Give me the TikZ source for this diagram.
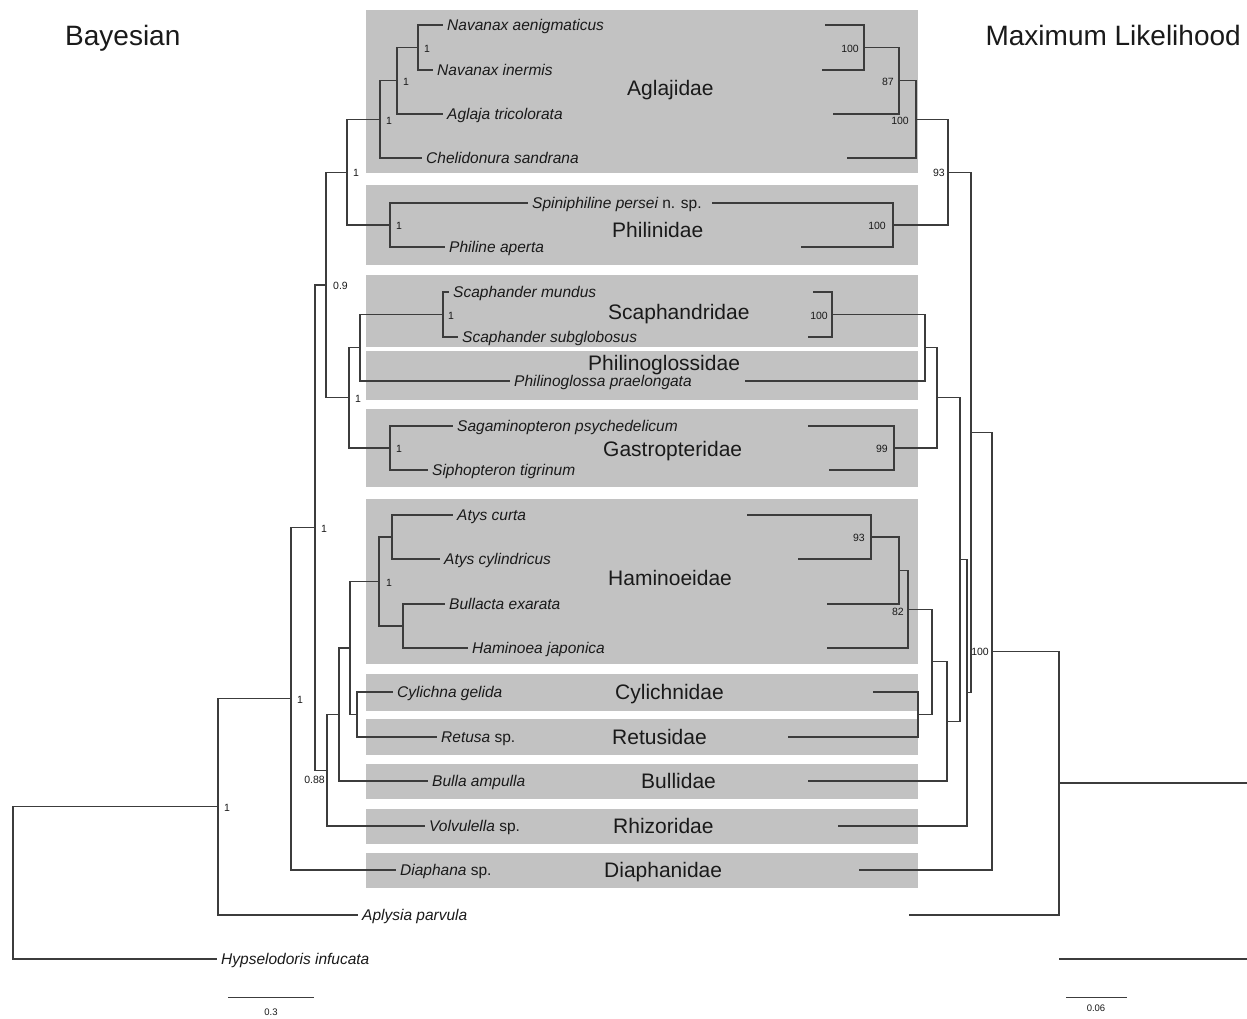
\documentclass[tikz,border=0pt]{standalone}
\usepackage{fontspec}
\setmainfont{Liberation Sans}
\definecolor{linec}{HTML}{3C3C3C}
\definecolor{txt}{HTML}{1A1A1A}
\definecolor{boxc}{HTML}{C2C2C2}
\begin{document}
\begin{tikzpicture}[x=1pt,y=-1pt,
  br/.style={draw=linec, line width=1.1pt},
  sp/.style={font=\fontsize{15.5}{18}\selectfont\itshape, text=txt, anchor=west, inner xsep=4pt, inner ysep=0pt, text height=11.1pt, text depth=0pt},
  fam/.style={font=\fontsize{21}{24}\selectfont, text=txt, anchor=west, inner sep=0pt, text height=15pt, text depth=0pt},
  ttl/.style={font=\fontsize{28}{32}\selectfont, text=txt, inner sep=0pt, text height=20pt, text depth=0pt},
  sup/.style={font=\fontsize{10.5}{12}\selectfont, text=txt, inner sep=0pt, text height=7.5pt, text depth=0pt},
  scl/.style={font=\fontsize{9.5}{11}\selectfont, text=txt, inner sep=0pt, text height=6.8pt, text depth=0pt},
  fbox/.style={fill=boxc, draw=none}]
\useasboundingbox (0,0) rectangle (1247,1018);
\fill[white] (0,0) rectangle (1247,1018);
% family boxes
\fill[fbox] (366,10) rectangle (918,173);
\fill[fbox] (366,185) rectangle (918,265);
\fill[fbox] (366,275) rectangle (918,347);
\fill[fbox] (366,351) rectangle (918,400);
\fill[fbox] (366,409) rectangle (918,487);
\fill[fbox] (366,499) rectangle (918,664);
\fill[fbox] (366,674) rectangle (918,711);
\fill[fbox] (366,719) rectangle (918,755);
\fill[fbox] (366,764) rectangle (918,799);
\fill[fbox] (366,809) rectangle (918,844);
\fill[fbox] (366,853) rectangle (918,888);
% titles
\node[ttl, anchor=west] (tB) at (65,35) {Bayesian};
\node[ttl, anchor=east] (tM) at (1241,35) {Maximum Likelihood};
% family labels
\node[fam] (fA) at (627,88) {Aglajidae};
\node[fam] (fP) at (612,230) {Philinidae};
\node[fam] (fS) at (608,312) {Scaphandridae};
\node[fam] (fPg) at (588,363) {Philinoglossidae};
\node[fam] (fG) at (603,449) {Gastropteridae};
\node[fam] (fH) at (608,578) {Haminoeidae};
\node[fam] (fC) at (615,692) {Cylichnidae};
\node[fam] (fR) at (612,737) {Retusidae};
\node[fam] (fB) at (641,781) {Bullidae};
\node[fam] (fRz) at (613,826) {Rhizoridae};
\node[fam] (fD) at (604,870) {Diaphanidae};
% species (Bayesian tips)
\node[sp] (L1) at (443,25) {Navanax aenigmaticus};
\node[sp] (L2) at (433,70) {Navanax inermis};
\node[sp] (L3) at (443,114) {Aglaja tricolorata};
\node[sp] (L4) at (422,158) {Chelidonura sandrana};
\node[sp] (L5) at (528,203) {Spiniphiline persei\upshape{} n. sp.};
\node[sp] (L6) at (445,247) {Philine aperta};
\node[sp] (L7) at (449,292) {Scaphander mundus};
\node[sp] (L8) at (458,337) {Scaphander subglobosus};
\node[sp] (L9) at (510,381) {Philinoglossa praelongata};
\node[sp] (L10) at (453,426) {Sagaminopteron psychedelicum};
\node[sp] (L11) at (428,470) {Siphopteron tigrinum};
\node[sp] (L12) at (453,515) {Atys curta};
\node[sp] (L13) at (440,559) {Atys cylindricus};
\node[sp] (L14) at (445,604) {Bullacta exarata};
\node[sp] (L15) at (468,648) {Haminoea japonica};
\node[sp] (L16) at (393,692) {Cylichna gelida};
\node[sp] (L17) at (437,737) {Retusa\upshape{} sp.};
\node[sp] (L18) at (428,781) {Bulla ampulla};
\node[sp] (L19) at (425,826) {Volvulella\upshape{} sp.};
\node[sp] (L20) at (396,870) {Diaphana\upshape{} sp.};
\node[sp] (L21) at (358,915) {Aplysia parvula};
\node[sp] (L22) at (217,959) {Hypselodoris infucata};
% Bayesian internal nodes
\coordinate (bNav) at (418,47.5);
\coordinate (bN2) at (397,80.75);
\coordinate (bN3) at (380,119.4);
\coordinate (bPhi) at (390,225);
\coordinate (bA) at (347,172.2);
\coordinate (bSca) at (443,314.5);
\coordinate (bC) at (360,347.75);
\coordinate (bGas) at (390,448);
\coordinate (bD) at (349,397.9);
\coordinate (bE) at (326,285);
\coordinate (bAty) at (392,537);
\coordinate (bBul) at (403,626);
\coordinate (bM) at (379,581.5);
\coordinate (bL) at (357,714.5);
\coordinate (bK) at (350,648);
\coordinate (bJ) at (339,714.5);
\coordinate (bH) at (327,770.25);
\coordinate (bF) at (315,527.6);
\coordinate (bG) at (291,698.8);
\coordinate (bI) at (218,806.9);
\coordinate (bRoot) at (13,883);
\draw[br] (bNav) |- (L1.west) (bNav) |- (L2.west);
\draw[br] (bN2) |- (bNav) (bN2) |- (L3.west);
\draw[br] (bN3) |- (bN2) (bN3) |- (L4.west);
\draw[br] (bPhi) |- (L5.west) (bPhi) |- (L6.west);
\draw[br] (bA) |- (bN3) (bA) |- (bPhi);
\draw[br] (bSca) |- (L7.west) (bSca) |- (L8.west);
\draw[br] (bC) |- (bSca) (bC) |- (L9.west);
\draw[br] (bGas) |- (L10.west) (bGas) |- (L11.west);
\draw[br] (bD) |- (bC) (bD) |- (bGas);
\draw[br] (bE) |- (bA) (bE) |- (bD);
\draw[br] (bAty) |- (L12.west) (bAty) |- (L13.west);
\draw[br] (bBul) |- (L14.west) (bBul) |- (L15.west);
\draw[br] (bM) |- (bAty) (bM) |- (bBul);
\draw[br] (bL) |- (L16.west) (bL) |- (L17.west);
\draw[br] (bK) |- (bM) (bK) |- (bL);
\draw[br] (bJ) |- (bK) (bJ) |- (L18.west);
\draw[br] (bH) |- (bJ) (bH) |- (L19.west);
\draw[br] (bF) |- (bE) (bF) |- (bH);
\draw[br] (bG) |- (bF) (bG) |- (L20.west);
\draw[br] (bI) |- (bG) (bI) |- (L21.west);
\draw[br] (bRoot) |- (bI) (bRoot) |- (L22.west);
% Bayesian supports
\node[sup, anchor=west] (s1) at ([xshift=6pt,yshift=-1pt]bNav) {1};
\node[sup, anchor=west] (s2) at ([xshift=6pt,yshift=-1pt]bN2) {1};
\node[sup, anchor=west] (s3) at ([xshift=6pt,yshift=-1pt]bN3) {1};
\node[sup, anchor=west] (s4) at ([xshift=6pt,yshift=-1pt]bPhi) {1};
\node[sup, anchor=west] (s5) at ([xshift=6pt,yshift=-1pt]bA) {1};
\node[sup, anchor=west] (s6) at ([xshift=5pt,yshift=-1pt]bSca) {1};
\node[sup, anchor=west] (s7) at ([xshift=6pt,yshift=-1pt]bGas) {1};
\node[sup, anchor=west] (s8) at ([xshift=6pt,yshift=-1pt]bD) {1};
\node[sup, anchor=west] (s9) at ([xshift=7pt,yshift=-1pt]bE) {0.9};
\node[sup, anchor=west] (s10) at ([xshift=6pt,yshift=-1pt]bF) {1};
\node[sup, anchor=west] (s11) at ([xshift=6pt,yshift=-1pt]bG) {1};
\node[sup, anchor=west] (s12) at ([xshift=7pt,yshift=-1.5pt]bM) {1};
\node[sup, anchor=west] (s13) at ([xshift=6pt,yshift=-1pt]bI) {1};
\node[sup, anchor=east] (s14) at ([xshift=-2pt,yshift=-9pt]bH) {0.88};
% ML tips
\coordinate (mL1) at (825,25);
\coordinate (mL2) at (822,70);
\coordinate (mL3) at (833,114);
\coordinate (mL4) at (847,158);
\coordinate (mL5) at (712,203);
\coordinate (mL6) at (801,247);
\coordinate (mL7) at (813,292);
\coordinate (mL8) at (808,337);
\coordinate (mL9) at (745,381);
\coordinate (mL10) at (808,426);
\coordinate (mL11) at (829,470);
\coordinate (mL12) at (747,515);
\coordinate (mL13) at (798,559);
\coordinate (mL14) at (827,604);
\coordinate (mL15) at (827,648);
\coordinate (mL16) at (873,692);
\coordinate (mL17) at (788,737);
\coordinate (mL18) at (808,781);
\coordinate (mL19) at (838,826);
\coordinate (mL20) at (859,870);
\coordinate (mL21) at (909,915);
\coordinate (mL22) at (1059,959);
\coordinate (mE1) at (1247,783);
\coordinate (mE2) at (1247,959);
% ML internal nodes
\coordinate (m1) at (864,47.5);
\coordinate (m2) at (899,80.75);
\coordinate (m3) at (916,119.4);
\coordinate (m4) at (893,225);
\coordinate (m5) at (948,172.2);
\coordinate (mS) at (832,314.5);
\coordinate (mC) at (925,347.75);
\coordinate (mG) at (894,448);
\coordinate (mD) at (937,397.9);
\coordinate (mA) at (871,537);
\coordinate (mB) at (899,570.5);
\coordinate (mH) at (908,609.25);
\coordinate (mL) at (918,714.5);
\coordinate (mK) at (932,661.9);
\coordinate (mJ) at (947,721.4);
\coordinate (mX) at (960,559.6);
\coordinate (mY) at (967,692.8);
\coordinate (mZ) at (971,432.5);
\coordinate (mW) at (992,651.2);
\coordinate (mV) at (1059,783);
\draw[br] (m1) |- (mL1) (m1) |- (mL2);
\draw[br] (m2) |- (m1) (m2) |- (mL3);
\draw[br] (m3) |- (m2) (m3) |- (mL4);
\draw[br] (m4) |- (mL5) (m4) |- (mL6);
\draw[br] (m5) |- (m3) (m5) |- (m4);
\draw[br] (mS) |- (mL7) (mS) |- (mL8);
\draw[br] (mC) |- (mS) (mC) |- (mL9);
\draw[br] (mG) |- (mL10) (mG) |- (mL11);
\draw[br] (mD) |- (mC) (mD) |- (mG);
\draw[br] (mA) |- (mL12) (mA) |- (mL13);
\draw[br] (mB) |- (mA) (mB) |- (mL14);
\draw[br] (mH) |- (mB) (mH) |- (mL15);
\draw[br] (mL) |- (mL16) (mL) |- (mL17);
\draw[br] (mK) |- (mH) (mK) |- (mL);
\draw[br] (mJ) |- (mK) (mJ) |- (mL18);
\draw[br] (mX) |- (mD) (mX) |- (mJ);
\draw[br] (mY) |- (mX) (mY) |- (mL19);
\draw[br] (mZ) |- (m5) (mZ) |- (mY);
\draw[br] (mW) |- (mZ) (mW) |- (mL20);
\draw[br] (mV) |- (mW) (mV) |- (mL21);
\draw[br] (mV) -- (mE1);
\draw[br] (mL22) -- (mE2);
% ML supports
\node[sup, anchor=east] (t1) at ([xshift=-5pt,yshift=-1pt]m1) {100};
\node[sup, anchor=east] (t2) at ([xshift=-5pt,yshift=-1pt]m2) {87};
\node[sup, anchor=east] (t3) at ([xshift=-7pt,yshift=-1pt]m3) {100};
\node[sup, anchor=east] (t4) at ([xshift=-7pt,yshift=-1pt]m4) {100};
\node[sup, anchor=east] (t5) at ([xshift=-3pt,yshift=-1pt]m5) {93};
\node[sup, anchor=east] (t6) at ([xshift=-4pt,yshift=-1pt]mS) {100};
\node[sup, anchor=east] (t7) at ([xshift=-6pt,yshift=-1pt]mG) {99};
\node[sup, anchor=east] (t8) at ([xshift=-6pt,yshift=-1pt]mA) {93};
\node[sup, anchor=east] (t9) at ([xshift=-4pt,yshift=-2pt]mH) {82};
\node[sup, anchor=east] (t10) at ([xshift=-3pt,yshift=-1pt]mW) {100};
% scale bars
\coordinate (sbA1) at (228,997);
\coordinate (sbA2) at (314,997);
\draw[br, line width=0.9pt] (sbA1) -- (sbA2);
\node[scl] (sbAl) at (271,1012) {0.3};
\coordinate (sbB1) at (1066,997);
\coordinate (sbB2) at (1127,997);
\draw[br, line width=0.9pt] (sbB1) -- (sbB2);
\node[scl] (sbBl) at (1096,1008) {0.06};
\end{tikzpicture}
\end{document}
